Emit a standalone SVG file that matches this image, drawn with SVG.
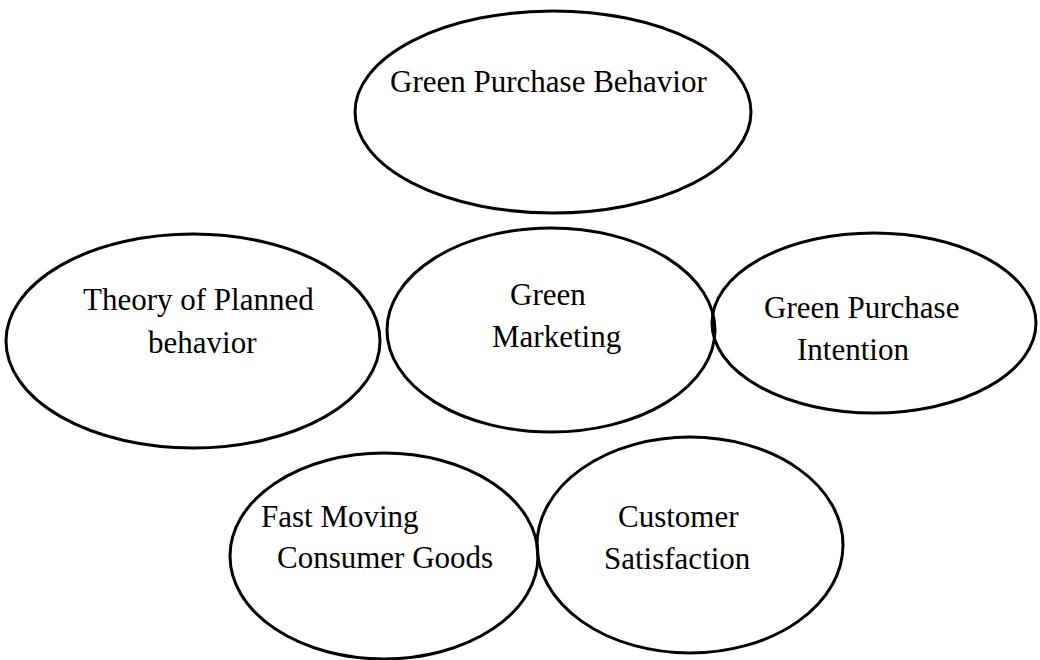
<svg xmlns="http://www.w3.org/2000/svg" width="1040" height="660" viewBox="0 0 1040 660">
<style>
.n{fill:none;stroke:#000;stroke-width:3}
.t{font-family:"Liberation Serif","Times New Roman",serif;font-size:31px;fill:#000}
</style>
<rect width="1040" height="660" fill="#fff"/>
<g id="connectors"></g>
<g id="gpb"><ellipse class="n" cx="553" cy="112" rx="198" ry="101"/><text class="t" x="390" y="92">Green Purchase Behavior</text></g>
<g id="tpb"><ellipse class="n" cx="193" cy="341" rx="187" ry="107"/><text class="t" x="83" y="310">Theory of Planned</text><text class="t" x="148" y="353">behavior</text></g>
<g id="gm"><ellipse class="n" cx="551" cy="330" rx="164" ry="102"/><text class="t" x="510" y="305">Green</text><text class="t" x="492" y="347">Marketing</text></g>
<g id="gpi"><ellipse class="n" cx="874" cy="323" rx="162" ry="90"/><text class="t" x="764" y="318">Green Purchase</text><text class="t" x="797" y="360">Intention</text></g>
<g id="fmcg"><ellipse class="n" cx="384" cy="556" rx="154" ry="103"/><text class="t" x="261" y="527">Fast Moving</text><text class="t" x="277" y="568">Consumer Goods</text></g>
<g id="cs"><ellipse class="n" cx="690" cy="545" rx="153" ry="108"/><text class="t" x="618" y="527">Customer</text><text class="t" x="604" y="569">Satisfaction</text></g>
</svg>
